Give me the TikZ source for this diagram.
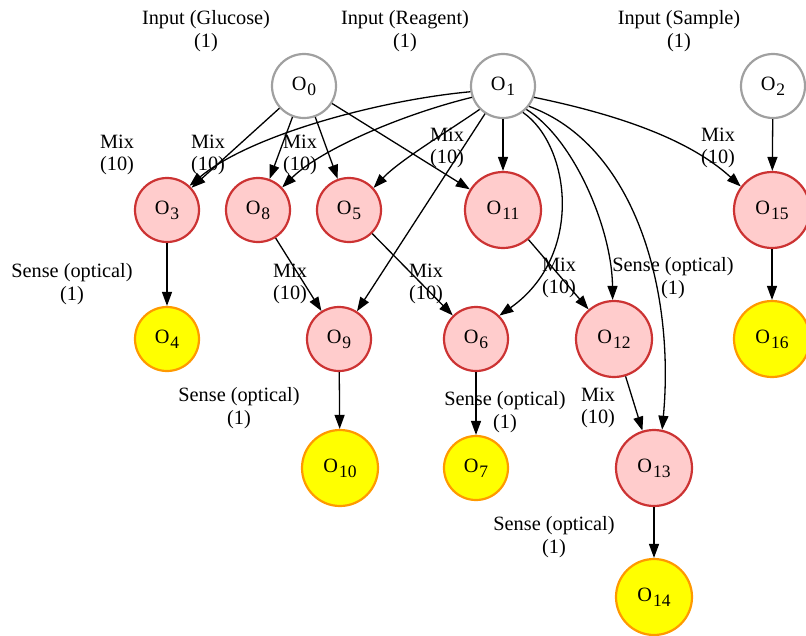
\documentclass[tikz,border=0pt]{standalone}
\usepackage{fontspec}
\setmainfont{Liberation Serif}
\usetikzlibrary{arrows.meta}
\definecolor{ingray}{HTML}{A0A0A0}
\definecolor{mixred}{HTML}{CC3333}
\definecolor{mixfill}{HTML}{FFCCCC}
\definecolor{senseor}{HTML}{FF9900}
\definecolor{sensefill}{HTML}{FFFF00}
\newcommand\opname[1]{O\kern1pt\raisebox{-5pt}{\fontsize{17.5}{17.5}\selectfont #1}}
\begin{document}
\begin{tikzpicture}[x=1pt,y=-1pt,
  every node/.style={font=\fontsize{20.3}{22.5}\selectfont},
  op/.style={circle, line width=2.2pt, inner sep=0pt},
  inop/.style={op, draw=ingray, fill=white, minimum size=64pt},
  mixop/.style={op, draw=mixred, fill=mixfill, minimum size=64pt},
  mixbig/.style={mixop, minimum size=76pt},
  senseop/.style={op, draw=senseor, fill=sensefill, minimum size=64pt},
  sensebig/.style={senseop, minimum size=76pt},
  lbl/.style={align=center, inner sep=0pt},
  edge/.style={line width=1.3pt, -{Triangle[length=14pt,width=10pt]}}
]
\useasboundingbox (0,0) rectangle (806,635);

% operation nodes
\node[inop] (O0) at (304,86) {\opname{0}};
\node[inop] (O1) at (503,86) {\opname{1}};
\node[inop] (O2) at (773,86) {\opname{2}};
\node[mixop] (O3) at (167,210) {\opname{3}};
\node[mixop] (O8) at (258,210) {\opname{8}};
\node[mixop] (O5) at (349,210) {\opname{5}};
\node[mixbig] (O11) at (503,210) {\opname{11}};
\node[mixbig] (O15) at (772,210) {\opname{15}};
\node[senseop] (O4) at (167,339) {\opname{4}};
\node[mixop] (O9) at (339,339) {\opname{9}};
\node[mixop] (O6) at (476,339) {\opname{6}};
\node[mixbig] (O12) at (614,339) {\opname{12}};
\node[sensebig] (O16) at (772,339) {\opname{16}};
\node[sensebig] (O10) at (340,468) {\opname{10}};
\node[senseop] (O7) at (476,468) {\opname{7}};
\node[mixbig] (O13) at (654,468) {\opname{13}};
\node[sensebig] (O14) at (654,597) {\opname{14}};

% labels
\node[lbl] (L1) at (206,31) {Input (Glucose)\\(1)};
\node[lbl] (L2) at (405,31) {Input (Reagent)\\(1)};
\node[lbl] (L3) at (679,31) {Input (Sample)\\(1)};
\node[lbl] (L4) at (117,155) {Mix\\(10)};
\node[lbl] (L5) at (208,155) {Mix\\(10)};
\node[lbl] (L6) at (300,155) {Mix\\(10)};
\node[lbl] (L7) at (447,148) {Mix\\(10)};
\node[lbl] (L8) at (718,148) {Mix\\(10)};
\node[lbl] (L9) at (72,284) {Sense (optical)\\(1)};
\node[lbl] (L10) at (290,284) {Mix\\(10)};
\node[lbl] (L11) at (426,284) {Mix\\(10)};
\node[lbl] (L12) at (559,278) {Mix\\(10)};
\node[lbl] (L13) at (673,278) {Sense (optical)\\(1)};
\node[lbl] (L14) at (239,408) {Sense (optical)\\(1)};
\node[lbl] (L15) at (505,412) {Sense (optical)\\(1)};
\node[lbl] (L16) at (598,408) {Mix\\(10)};
\node[lbl] (L17) at (554,537) {Sense (optical)\\(1)};

% straight edges
\draw[edge] (O0) -- (O3);
\draw[edge] (O0) -- (O8);
\draw[edge] (O0) -- (O5);
\draw[edge] (O0) -- (O11);
\draw[edge] (O1) -- (O11);
\draw[edge] (O1) -- (O9);
\draw[edge] (O2) -- (O15);
\draw[edge] (O3) -- (O4);
\draw[edge] (O8) -- (O9);
\draw[edge] (O5) -- (O6);
\draw[edge] (O11) -- (O12);
\draw[edge] (O9) -- (O10);
\draw[edge] (O6) -- (O7);
\draw[edge] (O12) -- (O13);
\draw[edge] (O13) -- (O14);
\draw[edge] (O15) -- (O16);

% curved edges from O1
\draw[edge] (O1.190) .. controls (380,100) and (250,135) .. (O3.47);
\draw[edge] (O1.200) .. controls (400,115) and (320,150) .. (O8.43);
\draw[edge] (O1.225) .. controls (450,130) and (400,160) .. (O5.42);
\draw[edge] (O1.-53) .. controls (570,145) and (585,255) .. (O6.45);
\draw[edge] (O1.-45) .. controls (575,140) and (612,230) .. (O12.92);
\draw[edge] (O1.-38) .. controls (635,145) and (675,290) .. (O13.78);
\draw[edge] (O1.-20) .. controls (620,115) and (690,140) .. (O15.143);
\end{tikzpicture}
\end{document}
